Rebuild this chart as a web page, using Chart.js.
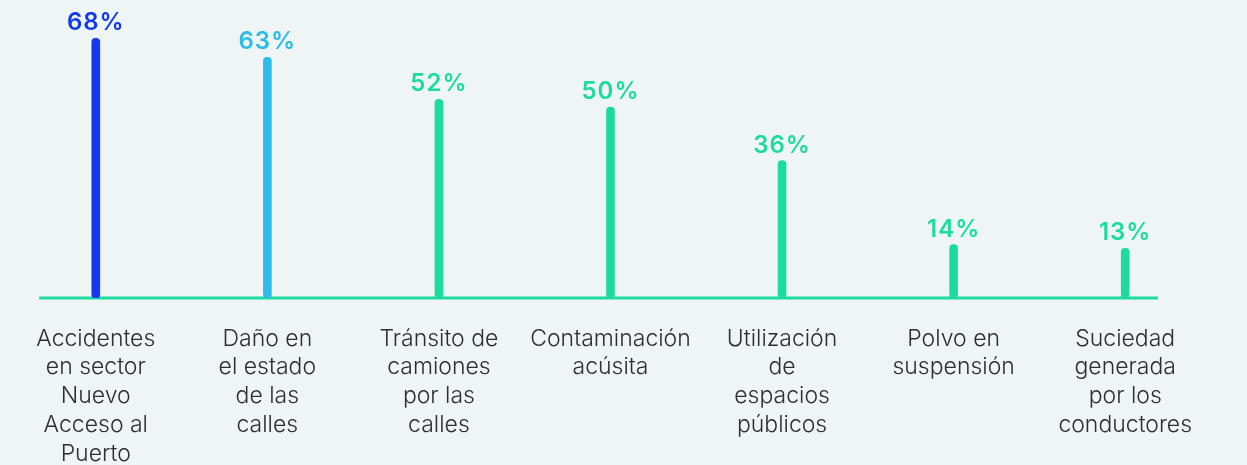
<!DOCTYPE html>
<html lang="es">
<head>
<meta charset="utf-8">
<title>Problemas percibidos</title>
<script src="https://cdn.jsdelivr.net/npm/chart.js@4"></script>
<style>
  html, body { margin: 0; padding: 0; background: #eff5f5; }
  #wrap { width: 1247px; height: 465px; position: relative; }
</style>
</head>
<body>
<div id="wrap"><canvas id="chart"></canvas></div>
<script>
// Categorías (cada una partida en líneas como en el gráfico)
const categories = [
  ["Accidentes", "en sector", "Nuevo", "Acceso al", "Puerto"],
  ["Daño en", "el estado", "de las", "calles"],
  ["Tránsito de", "camiones", "por las", "calles"],
  ["Contaminación", "acúsita"],
  ["Utilización", "de", "espacios", "públicos"],
  ["Polvo en", "suspensión"],
  ["Suciedad", "generada", "por los", "conductores"]
];

// Porcentaje de menciones
const values = [68, 63, 52, 50, 36, 14, 13];

const barColors = ["#1239f0", "#2cbcea", "#1cdb9e", "#1cdb9e", "#1cdb9e", "#1cdb9e", "#1cdb9e"];
const baseColor = "#1cdb9e";

// Línea base verde bajo las barras
const baseLine = {
  id: "baseLine",
  beforeDatasetsDraw(chart) {
    const x = chart.scales.x, y = chart.scales.y;
    const step = x.getPixelForValue(1) - x.getPixelForValue(0);
    const left = x.getPixelForValue(0) - step * 0.33;
    const right = x.getPixelForValue(values.length - 1) + step * 0.19;
    const ctx = chart.ctx;
    ctx.save();
    ctx.strokeStyle = baseColor;
    ctx.lineWidth = 3;
    ctx.beginPath();
    ctx.moveTo(left, y.getPixelForValue(0));
    ctx.lineTo(right, y.getPixelForValue(0));
    ctx.stroke();
    ctx.restore();
  }
};

// Etiquetas de porcentaje sobre cada barra
const valueLabels = {
  id: "valueLabels",
  afterDatasetsDraw(chart) {
    const ctx = chart.ctx;
    const meta = chart.getDatasetMeta(0);
    ctx.save();
    ctx.font = "600 24px 'Inter', 'DejaVu Sans', sans-serif";
    ctx.letterSpacing = "1px";
    ctx.textAlign = "center";
    ctx.textBaseline = "alphabetic";
    meta.data.forEach((bar, i) => {
      ctx.fillStyle = barColors[i];
      ctx.fillText(values[i] + "%", bar.x, bar.y - 8);
    });
    ctx.restore();
  }
};

new Chart(document.getElementById("chart"), {
  type: "bar",
  data: {
    labels: categories,
    datasets: [{
      data: values,
      backgroundColor: barColors,
      barThickness: 8,
      borderRadius: 4,
      borderSkipped: false
    }]
  },
  options: {
    responsive: true,
    maintainAspectRatio: false,
    animation: false,
    layout: { padding: { left: 10, right: 36, top: 0, bottom: -22 } },
    plugins: { legend: { display: false }, tooltip: { enabled: false } },
    scales: {
      x: {
        grid: { display: false },
        border: { display: false },
        ticks: {
          color: "#2e2e2e",
          maxRotation: 0,
          autoSkip: false,
          padding: 18,
          font: { family: "'Inter', 'DejaVu Sans', sans-serif", size: 23, weight: 300, lineHeight: 1.26 }
        }
      },
      y: {
        display: false,
        min: 0,
        max: 78
      }
    }
  },
  plugins: [baseLine, valueLabels]
});
</script>
</body>
</html>
